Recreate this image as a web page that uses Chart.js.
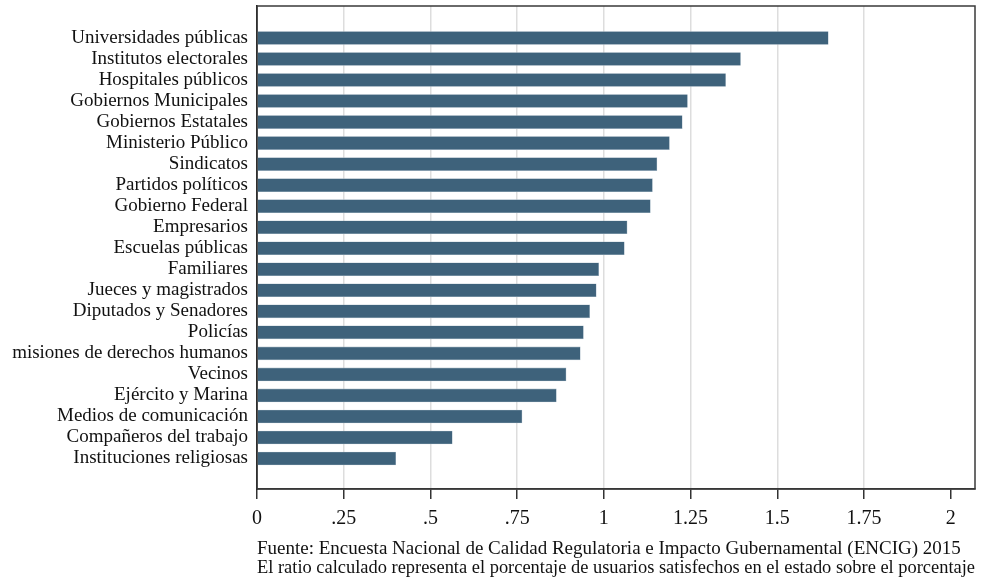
<!DOCTYPE html>
<html>
<head>
<meta charset="utf-8">
<script src="https://cdn.jsdelivr.net/npm/chart.js@4.4.1/dist/chart.umd.min.js"></script>
<style>
  html, body { margin: 0; padding: 0; background: #fff; }
  #wrap { width: 999px; height: 580px; }
</style>
</head>
<body>
<div id="wrap"><canvas id="grafica"></canvas></div>
<script>
var categorias = [
   'Universidades públicas',
   'Institutos electorales',
   'Hospitales públicos',
   'Gobiernos Municipales',
   'Gobiernos Estatales',
   'Ministerio Público',
   'Sindicatos',
   'Partidos políticos',
   'Gobierno Federal',
   'Empresarios',
   'Escuelas públicas',
   'Familiares',
   'Jueces y magistrados',
   'Diputados y Senadores',
   'Policías',
   'misiones de derechos humanos',
   'Vecinos',
   'Ejército y Marina',
   'Medios de comunicación',
   'Compañeros del trabajo',
   'Instituciones religiosas'
];
var ratios = [1.647, 1.394, 1.351, 1.241, 1.226, 1.189, 1.153, 1.140, 1.134, 1.067, 1.059,
   0.985, 0.978, 0.959, 0.941, 0.932, 0.891, 0.863, 0.764, 0.563, 0.400];
var xTicks = [0, 0.25, 0.5, 0.75, 1, 1.25, 1.5, 1.75, 2];
var xTickLabels = ['0', '.25', '.5', '.75', '1', '1.25', '1.5', '1.75', '2'];
var notas = [
   'Fuente: Encuesta Nacional de Calidad Regulatoria e Impacto Gubernamental (ENCIG) 2015',
   'El ratio calculado representa el porcentaje de usuarios satisfechos en el estado sobre el porcentaje'
];

var serif = "'Liberation Serif', 'DejaVu Serif', serif";

// marco alrededor del area de la grafica
var marco = {
   id: 'marco',
   afterDraw: function (chart) {
      var a = chart.chartArea;
      var ctx = chart.ctx;
      ctx.save();
      ctx.strokeStyle = '#3a3a3a';
      ctx.lineWidth = 1.5;
      ctx.strokeRect(a.left, a.top, a.right - a.left, a.bottom - a.top);
      ctx.restore();
   }
};

var puntos = ratios.map(function (v, i) { return { x: v, y: i }; });

new Chart(document.getElementById('grafica').getContext('2d'), {
   type: 'bar',
   data: {
      datasets: [{
         data: puntos,
         backgroundColor: '#3e627b',
         borderColor: '#9fb2c0',
         borderWidth: 0.6,
         borderSkipped: false,
         barThickness: 13
      }]
   },
   options: {
      indexAxis: 'y',
      responsive: true,
      maintainAspectRatio: false,
      animation: false,
      layout: { padding: { top: 6, right: 24, left: 0, bottom: 2 } },
      plugins: {
         legend: { display: false },
         tooltip: { enabled: false },
         title: {
            display: true,
            text: notas,
            position: 'bottom',
            align: 'start',
            fullSize: false,
            color: '#111',
            font: { family: serif, size: 19, weight: 'normal', lineHeight: 1.0 },
            padding: { top: 9, bottom: 0 }
         }
      },
      scales: {
         x: {
            type: 'linear',
            min: 0,
            max: 2.07,
            afterBuildTicks: function (scale) {
               scale.ticks = xTicks.map(function (v) { return { value: v }; });
            },
            afterFit: function (scale) {
               scale.height = 42;
               scale.paddingLeft = 0;
               scale.paddingRight = 0;
            },
            ticks: {
               autoSkip: false,
               maxRotation: 0,
               padding: 8,
               color: '#111',
               font: { family: serif, size: 20 },
               callback: function (v) {
                  var i = xTicks.indexOf(v);
                  return i >= 0 ? xTickLabels[i] : '';
               }
            },
            grid: {
               color: function (c) {
                  if (c.tick && (c.tick.value === 0 || c.tick.value === 2)) return 'rgba(0,0,0,0)';
                  return '#dddddd';
               },
               lineWidth: 1.5,
               tickColor: '#333',
               tickLength: 10,
               drawOnChartArea: true
            },
            border: { color: '#333', width: 1.5 }
         },
         y: {
            type: 'linear',
            reverse: true,
            offset: false,
            min: -1.52,
            max: 21.45,
            afterBuildTicks: function (scale) {
               scale.ticks = categorias.map(function (c, i) { return { value: i }; });
            },
            afterFit: function (scale) {
               scale.width = 257;
               scale.paddingTop = 0;
               scale.paddingBottom = 0;
            },
            ticks: {
               autoSkip: false,
               padding: 9,
               color: '#111',
               font: { family: serif, size: 19 },
               callback: function (v) { return categorias[v]; }
            },
            grid: { display: false, drawTicks: false },
            border: { color: '#111', width: 1.5 }
         }
      }
   },
   plugins: [marco]
});
</script>
</body>
</html>
